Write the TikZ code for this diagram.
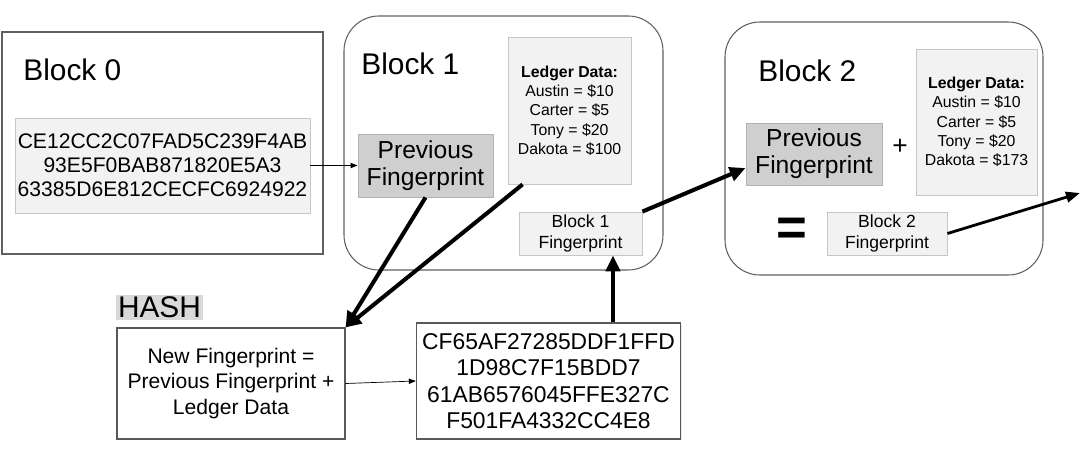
\documentclass[tikz,border=0pt]{standalone}
\usepackage{fontspec}
\setmainfont{Liberation Sans}
\usetikzlibrary{arrows.meta, shadows}

\def\px{0.02cm}

\tikzset{
	block/.style = {draw = gray!75!black, line width = 0.6pt, inner sep = 0pt},
	databox/.style = {draw = gray!45, fill = gray!10, line width = 0.5pt, inner sep = 0pt, align = center,
		drop shadow = {shadow xshift = 0.8pt, shadow yshift = -0.8pt, fill = gray!35}},
	prevbox/.style = {databox, draw = gray!60, fill = gray!38, font = \fontsize{14}{15.5}\selectfont},
	ledgerbox/.style = {databox, font = \fontsize{9}{11}\selectfont},
	fpbox/.style = {databox, font = \fontsize{10}{11.5}\selectfont},
	title/.style = {anchor = base west, inner sep = 0pt, font = \fontsize{17}{20}\selectfont},
	thin arrow/.style = {-{Triangle[length = 4pt, width = 3pt]}, line width = 0.6pt},
	thick arrow/.style = {-{Triangle[length = 9pt, width = 8pt]}, line width = 2.3pt},
	mid arrow/.style = {-{Triangle[length = 8pt, width = 6pt]}, line width = 1.6pt}
}

\begin{document}
\begin{tikzpicture}[x = 0.02cm, y = -0.02cm]

	% Definition

	\useasboundingbox (0, 0) rectangle (1087, 459);

	% Block 0

	\node [block, drop shadow = {shadow xshift = 0.8pt, shadow yshift = -0.8pt, fill = gray!35}, fill = white,
		minimum width = 321*\px, minimum height = 222*\px] (block0) at (162.5, 143) {};
	\node [title] (title0) at (23, 81) {Block 0};
	\node [databox, font = \fontsize{12}{13.6}\selectfont, minimum width = 295*\px, minimum height = 95*\px]
		(hash0) at (162.5, 165.5) {CE12CC2C07FAD5C239F4AB\\93E5F0BAB871820E5A3\\63385D6E812CECFC6924922};

	% Block 1

	\node [block, rounded corners = 0.7cm, minimum width = 319*\px, minimum height = 254*\px] (block1) at (503.5, 143) {};
	\node [title] (title1) at (361, 75) {Block 1};
	\node [ledgerbox, minimum width = 123*\px, minimum height = 147*\px] (ledger1) at (569.5, 110.5)
		{\textbf{Ledger Data:}\\Austin = \$10\\Carter = \$5\\Tony = \$20\\Dakota = \$100};
	\node [prevbox, minimum width = 135*\px, minimum height = 63*\px] (prev1) at (425.5, 165.5) {Previous\\Fingerprint};
	\node [fpbox, minimum width = 123*\px, minimum height = 43*\px] (fp1) at (580.5, 233.5) {Block 1\\Fingerprint};

	% Block 2

	\node [block, rounded corners = 0.7cm, minimum width = 318*\px, minimum height = 253*\px] (block2) at (884, 148.5) {};
	\node [title] (title2) at (758, 82) {Block 2};
	\node [prevbox, minimum width = 136*\px, minimum height = 62*\px] (prev2) at (814, 154) {Previous\\Fingerprint};
	\node [font = \fontsize{15}{15}\selectfont] (plus) at (900, 147) {+};
	\node [ledgerbox, minimum width = 121*\px, minimum height = 146*\px] (ledger2) at (976.5, 122)
		{\textbf{Ledger Data:}\\Austin = \$10\\Carter = \$5\\Tony = \$20\\Dakota = \$173};
	\node [font = \bfseries\fontsize{30}{30}\selectfont] (equals) at (792, 232) {=};
	\node [fpbox, minimum width = 120*\px, minimum height = 43*\px] (fp2) at (887, 233.5) {Block 2\\Fingerprint};
	\coordinate (next) at (1080, 193);

	% Hash

	\node [fill = gray!30, inner sep = 1pt, font = \fontsize{17}{20}\selectfont] (hash) at (159.5, 307.5) {HASH};
	\node [draw = gray!70!black, line width = 0.6pt, fill = white, align = center, font = \fontsize{12}{14.5}\selectfont,
		drop shadow = {shadow xshift = 0.8pt, shadow yshift = -0.8pt, fill = gray!35},
		minimum width = 228*\px, minimum height = 111*\px] (newfp) at (231, 383.5)
		{New Fingerprint =\\Previous Fingerprint +\\Ledger Data};
	\node [draw = gray!70!black, line width = 0.6pt, fill = white, align = center, font = \fontsize{13}{15}\selectfont,
		drop shadow = {shadow xshift = 0.8pt, shadow yshift = -0.8pt, fill = gray!35},
		minimum width = 259*\px, minimum height = 116*\px] (hashout) at (548.5, 381)
		{CF65AF27285DDF1FFD\\1D98C7F15BDD7\\61AB6576045FFE327C\\F501FA4332CC4E8};

	% Connectors

	\draw [thin arrow] (hash0.east) -- (prev1.west);
	\draw [thick arrow] (prev1.south) -- (newfp.north east);
	\draw [thick arrow] ([xshift = 15*\px]ledger1.south west) -- (newfp.north east);
	\draw [thin arrow, line width = 0.4pt] (newfp.east) -- (hashout.west);
	\draw [thick arrow] ([xshift = 64.5*\px]hashout.north) -- ([xshift = 32.5*\px]fp1.south);
	\draw [thick arrow] (fp1.north east) -- ([yshift = -14*\px]prev2.west);
	\draw [mid arrow] (fp2.east) -- (next);

\end{tikzpicture}
\end{document}
